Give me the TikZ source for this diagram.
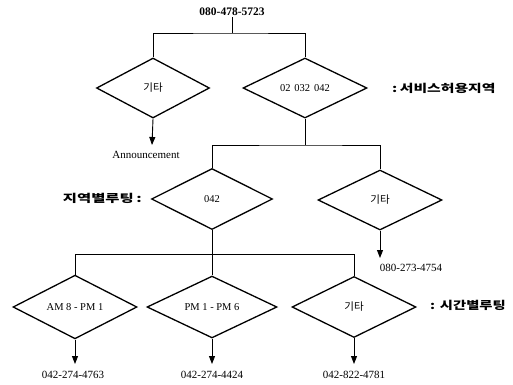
\documentclass[tikz,border=0pt]{standalone}
\usepackage{fontspec}
\setmainfont{Liberation Serif}
\newfontfamily\kr{Noto Sans CJK KR}
\usetikzlibrary{shapes.geometric,arrows.meta}
\tikzset{
  dia/.style={draw, diamond, line width=1.3pt, inner sep=0pt, minimum height=61pt, minimum width=124pt, font=\fontsize{10.5}{12}\selectfont},
  conn/.style={line width=0.8pt},
  arr/.style={line width=0.9pt, -{Triangle[width=6pt,length=8pt]}},
  num/.style={font=\fontsize{11}{12}\selectfont, inner sep=1pt},
  side/.style={font=\kr\bfseries\fontsize{11}{12}\selectfont, inner sep=0pt}
}
\begin{document}
\begin{tikzpicture}[x=1pt,y=-1pt]
\useasboundingbox (0,0) rectangle (513,384);
% title
\node[font=\bfseries\fontsize{11.5}{13}\selectfont, inner sep=1pt] (t) at (232,12) {080-478-5723};
\coordinate (j1) at (232,33);
% level 1
\node[dia, minimum width=113pt, minimum height=60pt] (d1) at (153,88) {\kr 기타};
\node[dia, minimum height=60pt] (d2) at (305,88) {02\hspace{4pt}032\hspace{4pt}042};
\node[side, anchor=west] (s1) at (392,88) {\scalebox{1.35}[1]{:\,서비스허용지역}};
\draw[conn] (t.south) -- (j1);
\draw[conn] (d1.north) |- (j1) -| (d2.north);
\coordinate (a1) at (152,145);
\draw[arr] (d1.south) -- (a1);
\node[num] (ann) at (146,155) {Announcement};
% level 2
\coordinate (j2) at (305,145);
\node[dia, minimum width=121pt] (d3) at (212,199) {042};
\node[dia, minimum height=60pt] (d4) at (380,200) {\kr 기타};
\node[side, anchor=east] (s2) at (142,198) {\scalebox{1.4}[1]{지역별루팅\,:}};
\draw[conn] (d2.south) -- (j2);
\draw[conn] (d3.north) |- (j2) -| (d4.north);
\coordinate (a4) at (380,258);
\draw[arr] (d4.south) -- (a4);
\node[num] (l4) at (411,268) {080-273-4754};
% level 3
\coordinate (j3) at (212,254);
\node[dia] (d5) at (75,307) {AM 8 - PM 1};
\node[dia, minimum width=130pt] (d6) at (212,307) {PM 1 - PM 6};
\node[dia] (d7) at (354,307) {\kr 기타};
\node[side, anchor=west] (s3) at (430,305) {\scalebox{1.3}[1]{:\,\,시간별루팅}};
\draw[conn] (d3.south) -- (d6.north);
\draw[conn] (d5.north) |- (j3) -| (d7.north);
\coordinate (a5) at (75,364);
\coordinate (a6) at (212,364);
\coordinate (a7) at (354,364);
\draw[arr] (d5.south) -- (a5);
\draw[arr] (d6.south) -- (a6);
\draw[arr] (d7.south) -- (a7);
\node[num] (l5) at (73,375) {042-274-4763};
\node[num] (l6) at (212,375) {042-274-4424};
\node[num] (l7) at (354,375) {042-822-4781};
\end{tikzpicture}
\end{document}
